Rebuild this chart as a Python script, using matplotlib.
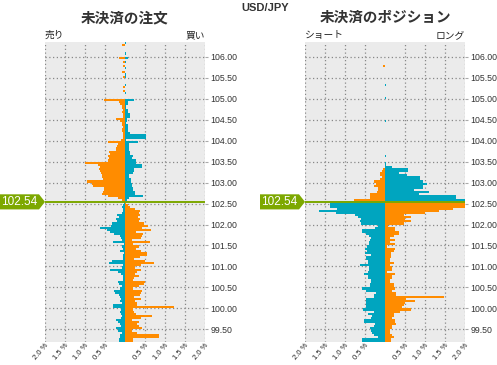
import numpy as np
import matplotlib.pyplot as plt
from matplotlib.patches import Polygon
from matplotlib.transforms import blended_transform_factory

plt.rcParams['font.family'] = ['Liberation Sans', 'Noto Sans CJK JP']

price = 102.54
# lower edges of 0.05 price buckets, top to bottom
above = np.round(np.arange(106.30, 102.549, -0.05), 2)   # 76 buckets above price
below = np.round(np.arange(102.50, 99.199, -0.05), 2)    # 67 buckets below price

# open orders (%), above price: sell side (left) / buy side (right)
ord_sell_above = [0, 0.07, 0, 0, 0, 0, 0, 0.14, 0, 0.05,
                  0, 0.04, 0, 0, 0.07, 0, 0.04, 0, 0, 0,
                  0, 0.06, 0, 0.05, 0, 0, 0, 0.53, 0.14, 0.13,
                  0.07, 0.07, 0.06, 0.07, 0.05, 0.05, 0.22, 0.12, 0.07, 0.07,
                  0.06, 0.07, 0.07, 0.05, 0.05, 0.04, 0.09, 0.42, 0.18, 0.19,
                  0.22, 0.22, 0.39, 0.38, 0.42, 0.41, 0.42, 0.99, 0.67, 0.63,
                  0.64, 0.62, 0.61, 0.57, 0.58, 0.56, 0.95, 0.82, 0.81, 0.52,
                  0.52, 0.56, 0.58, 0.43, 0.18, 0.08]
ord_buy_above = [0.03, 0, 0, 0, 0, 0.03, 0, 0.08, 0, 0.03,
                 0, 0, 0.03, 0, 0, 0.03, 0.03, 0, 0, 0,
                 0.03, 0, 0, 0, 0.03, 0, 0, 0.23, 0.08, 0.08,
                 0.02, 0.02, 0.07, 0.07, 0.13, 0.12, 0.05, 0.05, 0.03, 0.07,
                 0.07, 0.07, 0.07, 0.12, 0.53, 0.52, 0.03, 0.33, 0.09, 0.09,
                 0.11, 0.11, 0.13, 0.13, 0.19, 0.18, 0.28, 0.27, 0.43, 0.43,
                 0.23, 0.22, 0.21, 0.09, 0.10, 0.15, 0.14, 0.18, 0.17, 0.21,
                 0.20, 0.24, 0.24, 0.46, 0.11, 0.04]
# open orders (%), below price
ord_sell_below = [0.02, 0.06, 0.08, 0.05, 0.06, 0.07, 0.21, 0.16, 0.22, 0.21,
                  0.33, 0.35, 0.62, 0.45, 0.37, 0.28, 0.12, 0.10, 0.08, 0.29,
                  0.03, 0.07, 0.06, 0.12, 0.03, 0.04, 0.05, 0.06, 0.33, 0.39,
                  0.06, 0.07, 0.37, 0.18, 0.10, 0.05, 0.06, 0.05, 0.17, 0.16,
                  0.08, 0.13, 0.27, 0.26, 0.16, 0.12, 0.10, 0.12, 0.08, 0.29,
                  0.29, 0.10, 0.12, 0.11, 0.08, 0.10, 0.22, 0.18, 0.12, 0.11,
                  0.22, 0.18, 0.08, 0.12, 0.12, 0.14, 0.14]
ord_buy_below = [0.03, 0.07, 0.12, 0.25, 0.38, 0.36, 0.38, 0.33, 0.37, 0.35,
                 0.48, 0.57, 0.42, 0.65, 0.27, 0.46, 0.43, 0.40, 0.18, 0.63,
                 0.20, 0.36, 0.27, 0.41, 0.56, 0.55, 0.38, 0.22, 0.50, 0.73,
                 0.40, 0.25, 0.41, 0.30, 0.24, 0.35, 0.22, 0.20, 0.50, 0.48,
                 0.35, 0.20, 0.42, 0.40, 0.37, 0.22, 0.40, 0.25, 0.30, 0.30,
                 1.23, 0.19, 0.22, 0.27, 0.67, 0.40, 0.17, 0.35, 0.30, 0.35,
                 0.42, 0.18, 0.30, 0.85, 0.84, 0.20, 0.19]

# open positions (%), above price: short (left) / long (right)
pos_short_above = [0] * 11 + [0.04] + [0] * 48 + \
                  [0.04, 0.07, 0.12, 0.12, 0.08, 0.12, 0.27, 0.22, 0.27, 0.18,
                   0.18, 0.20, 0.37, 0.38, 0.38, 0.77]
pos_long_above = [0] * 20 + [0.03, 0, 0, 0, 0, 0, 0.03, 0, 0, 0,
                             0, 0, 0, 0, 0, 0, 0, 0.03, 0, 0] + [0] * 10 + \
                 [0, 0, 0, 0, 0.03, 0, 0, 0.03, 0.03, 0.17,
                  0.58, 0.58, 0.36, 0.55, 0.88, 0.88, 0.95, 1.05, 0.95, 0.94,
                  0.73, 1.11, 0.85, 1.78, 1.78, 2.10]
pos_short_below = [1.37, 1.37, 1.37, 1.20, 1.64, 1.22, 0.75, 0.68, 0.60, 0.63,
                   0.60, 0.17, 0.25, 0.58, 0.58, 0.48, 0.40, 0.35, 0.38, 0.40,
                   0.40, 0.45, 0.50, 0.45, 0.50, 0.35, 0.47, 0.47, 0.42, 0.43,
                   0.63, 0.40, 0.40, 0.43, 0.53, 0.43, 0.43, 0.35, 0.35, 0.38,
                   0.38, 0.57, 0.48, 0.23, 0.27, 0.27, 0.48, 0.48, 0.47, 0.47,
                   0.48, 0.55, 0.27, 0.43, 0.33, 0.35, 0.53, 0.53, 0.25, 0.27,
                   0.38, 0.35, 0.33, 0.27, 0.18, 0.57, 0.57]
pos_long_below = [2.20, 2.20, 2.20, 1.71, 1.36, 1.00, 0.48, 0.66, 0.50, 0.66,
                  0.47, 0.08, 0.25, 0.25, 0.35, 0.36, 0.22, 0.12, 0.25, 0.12,
                  0.25, 0.05, 0.25, 0.23, 0.14, 0.14, 0.15, 0.12, 0.12, 0.23,
                  0.13, 0.17, 0.17, 0.05, 0.25, 0.18, 0.18, 0.13, 0.13, 0.22,
                  0.22, 0.25, 0.17, 0.28, 0.28, 1.48, 0.52, 0.75, 0.50, 0.47,
                  0.43, 0.65, 0.38, 0.22, 0.23, 0.18, 0.25, 0.25, 0.28, 0.17,
                  0.18, 0.12, 0.13, 0.17, 0.23, 0.14, 0.14]

xticks = [-2.0, -1.5, -1.0, -0.5, 0.5, 1.0, 1.5, 2.0]
xlabels = ['2.0 %', '1.5 %', '1.0 %', '0.5 %', '0.5 %', '1.0 %', '1.5 %', '2.0 %']
yticks = [99.5, 100.0, 100.5, 101.0, 101.5, 102.0, 102.5,
          103.0, 103.5, 104.0, 104.5, 105.0, 105.5, 106.0]

orange = '#FF8C00'
teal = '#00A5BF'
green = '#7DA800'

W, H = 497, 365
fig = plt.figure(figsize=(W / 100, H / 100), dpi=100)
ax1 = fig.add_axes([45 / W, 23 / H, 160 / W, 300 / H])
ax2 = fig.add_axes([305 / W, 23 / H, 160 / W, 300 / H])


def panel(ax, up_l, up_r, dn_l, dn_r, title, lab_l, lab_r, box_x):
    kw = dict(height=0.05, align='edge', linewidth=0)
    ax.barh(above, -np.array(up_l), color=orange, **kw)
    ax.barh(above, up_r, color=teal, **kw)
    ax.barh(below, -np.array(dn_l), color=teal, **kw)
    ax.barh(below, dn_r, color=orange, **kw)
    ax.axhline(price, color=green, lw=1.4, zorder=5)

    ax.set_xlim(-2, 2)
    ax.set_ylim(99.2, 106.35)
    ax.set_facecolor('#EBEBEB')
    for s in ax.spines.values():
        s.set_visible(False)
    ax.set_xticks(xticks)
    ax.set_xticklabels(xlabels, rotation=50, ha='right', va='top',
                       rotation_mode='anchor', fontsize=5.5, color='#222222')
    ax.set_yticks(yticks)
    ax.set_yticklabels(['%.2f' % v for v in yticks], fontsize=6.3, color='#333333')
    ax.yaxis.tick_right()
    ax.tick_params(axis='y', length=2, color='#aaaaaa', pad=2)
    ax.tick_params(axis='x', length=0, pad=0)
    ax.grid(True, color='#888888', linestyle=(0, (1, 2)), linewidth=0.9)
    ax.set_axisbelow(True)

    pos = ax.get_position()
    cx = (pos.x0 + pos.x1) / 2
    fig.text(cx, 1 - 18 / H, title, ha='center', va='center',
             fontsize=10.5, fontweight='bold', color='#333333')
    fig.text(pos.x0, 1 - 35 / H, lab_l, ha='left', va='center', fontsize=7, color='#222222')
    fig.text(pos.x1, 1 - 35 / H, lab_r, ha='right', va='center', fontsize=7, color='#222222')

    # current price marker
    tr = blended_transform_factory(fig.transFigure, ax.transData)
    x0, x1, xt = box_x / W, (box_x + 39) / W, (box_x + 45) / W
    hh = 0.18
    box = Polygon([(x0, price + hh), (x1, price + hh), (xt, price),
                   (x1, price - hh), (x0, price - hh)],
                  closed=True, facecolor=green, edgecolor='none',
                  transform=tr, clip_on=False, zorder=6)
    ax.add_patch(box)
    ax.text((x0 + x1) / 2, price, '%.2f' % price, transform=tr, ha='center',
            va='center', fontsize=8.5, color='white', clip_on=False, zorder=7)


panel(ax1, ord_sell_above, ord_buy_above, ord_sell_below, ord_buy_below,
      '未決済の注文', '売り', '買い', 0)
panel(ax2, pos_short_above, pos_long_above, pos_short_below, pos_long_below,
      '未決済のポジション', 'ショート', 'ロング', 260)

fig.text(265 / W, 1 - 8 / H, 'USD/JPY', ha='center', va='center',
         fontsize=8, fontweight='bold', color='#333333')

fig.savefig('out.png', dpi=100)
